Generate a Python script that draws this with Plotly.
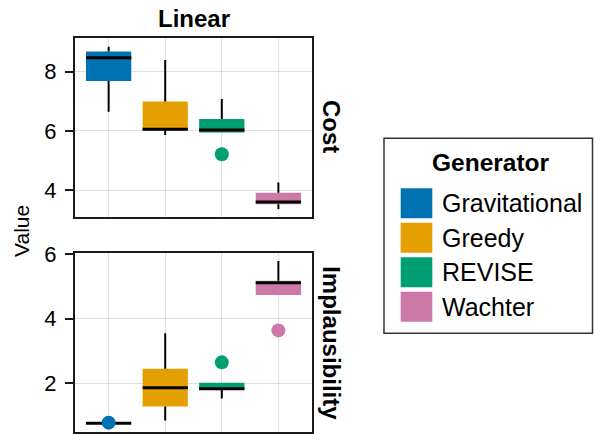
import plotly.graph_objects as go

# ---------------- data ----------------
generators = ["Gravitational", "Greedy", "REVISE", "Wachter"]
colors = ["#0072B2", "#E69F00", "#009E73", "#CC79A7"]
positions = [1, 2, 3, 4]

# Cost panel
cost_lower = [6.65, 5.86, 5.95, 3.36]
cost_q1 = [7.69, 6.02, 5.95, 3.52]
cost_median = [8.47, 6.06, 6.03, 3.60]
cost_q3 = [8.68, 6.99, 6.40, 3.91]
cost_upper = [8.84, 8.40, 7.08, 4.26]
cost_outlier_gen = ["REVISE"]
cost_outlier_val = [5.21]

# Implausibility panel
impl_lower = [0.76, 0.85, 1.53, 4.74]
impl_q1 = [0.76, 1.28, 1.80, 4.74]
impl_median = [0.76, 1.86, 1.83, 5.12]
impl_q3 = [0.76, 2.45, 2.02, 5.18]
impl_upper = [0.76, 3.55, 2.02, 5.79]
impl_outlier_gen = ["Gravitational", "REVISE", "Wachter"]
impl_outlier_val = [0.78, 2.65, 3.64]

panels = [
    ("Cost", cost_lower, cost_q1, cost_median, cost_q3, cost_upper, cost_outlier_gen, cost_outlier_val),
    ("Implausibility", impl_lower, impl_q1, impl_median, impl_q3, impl_upper, impl_outlier_gen, impl_outlier_val),
]

# ---------------- style ----------------
W, H = 594, 434
FONT = "Liberation Sans, Arial, Helvetica, sans-serif"
BOX_W = 0.8
FRAME = "#1a1a1a"
GRID = "rgba(0,0,0,0.12)"


def px(x):
    return x / W


def py(y):
    return 1 - y / H


fig = go.Figure()

axis_ids = [("x", "y"), ("x2", "y2")]
for (xa, ya), (name, lo, q1, med, q3, up, og, ov) in zip(axis_ids, panels):
    # box bodies
    fig.add_trace(go.Bar(
        x=positions, base=q1, y=[b - a for a, b in zip(q1, q3)],
        width=BOX_W, marker=dict(color=colors, line=dict(width=0)),
        xaxis=xa, yaxis=ya, showlegend=False, hoverinfo="skip",
    ))
    # whiskers
    wx, wy = [], []
    for p, l, a, b, u in zip(positions, lo, q1, q3, up):
        wx += [p, p, None, p, p, None]
        wy += [b, u, None, l, a, None]
    fig.add_trace(go.Scatter(
        x=wx, y=wy, mode="lines", line=dict(color="black", width=2),
        xaxis=xa, yaxis=ya, showlegend=False, hoverinfo="skip",
    ))
    # medians
    mx, my = [], []
    for p, m in zip(positions, med):
        mx += [p - BOX_W / 2, p + BOX_W / 2, None]
        my += [m, m, None]
    fig.add_trace(go.Scatter(
        x=mx, y=my, mode="lines", line=dict(color="black", width=3),
        xaxis=xa, yaxis=ya, showlegend=False, hoverinfo="skip",
    ))
    # outliers
    ox = [positions[generators.index(g)] for g in og]
    oc = [colors[generators.index(g)] for g in og]
    fig.add_trace(go.Scatter(
        x=ox, y=ov, mode="markers", marker=dict(color=oc, size=14, line=dict(width=0)),
        xaxis=xa, yaxis=ya, showlegend=False, hoverinfo="skip",
    ))

common_x = dict(
    range=[0.4, 4.6], tickvals=positions, showticklabels=False, ticks="",
    showgrid=True, gridcolor=GRID, gridwidth=1, zeroline=False,
    showline=True, linecolor=FRAME, linewidth=1.5, mirror=True,
    automargin=False,
    domain=[px(74.7), px(312.3)],
)
common_y = dict(
    showgrid=True, gridcolor=GRID, gridwidth=1, zeroline=False,
    showline=True, linecolor=FRAME, linewidth=1.5, mirror=True,
    ticks="outside", ticklen=8, tickwidth=1.5, tickcolor=FRAME,
    tickfont=dict(family=FONT, size=22, color="black"),
    ticklabelstandoff=4, automargin=False,
)

fig.update_layout(
    template="none",
    width=W, height=H,
    margin=dict(l=0, r=0, t=0, b=0, pad=0, autoexpand=False),
    paper_bgcolor="white", plot_bgcolor="white",
    barmode="overlay",
    showlegend=False,
    xaxis=dict(common_x, anchor="y"),
    yaxis=dict(common_y, anchor="x", range=[3.09, 9.15], tickvals=[4, 6, 8],
               domain=[py(217), py(37.7)]),
    xaxis2=dict(common_x, anchor="y2"),
    yaxis2=dict(common_y, anchor="x2", range=[0.49, 6.03], tickvals=[2, 4, 6],
                domain=[py(432), py(253.3)]),
)

annotations = [
    dict(text="<b>Linear</b>", x=px(193.5), y=py(18.5), xref="paper", yref="paper",
         showarrow=False, xanchor="center", yanchor="middle",
         font=dict(family=FONT, size=24, color="black")),
    dict(text="<b>Cost</b>", x=px(331), y=py(126), xref="paper", yref="paper",
         showarrow=False, xanchor="center", yanchor="middle", textangle=90,
         font=dict(family=FONT, size=24, color="black")),
    dict(text="<b>Implausibility</b>", x=px(331.5), y=py(342.7), xref="paper", yref="paper",
         showarrow=False, xanchor="center", yanchor="middle", textangle=90,
         font=dict(family=FONT, size=24, color="black")),
    dict(text="Value", x=px(21), y=py(231), xref="paper", yref="paper",
         showarrow=False, xanchor="center", yanchor="middle", textangle=-90,
         font=dict(family=FONT, size=21, color="black")),
    dict(text="<b>Generator</b>", x=px(491), y=py(162.5), xref="paper", yref="paper",
         showarrow=False, xanchor="center", yanchor="middle",
         font=dict(family=FONT, size=24.5, color="black")),
]

shapes = [
    dict(type="rect", xref="paper", yref="paper",
         x0=px(384), x1=px(592.5), y0=py(333.3), y1=py(138.3),
         line=dict(color="#333333", width=1.5), fillcolor="rgba(0,0,0,0)"),
]

LEG_TOP, LEG_PITCH, SQ = 188.3, 34.5, 30
for i, (g, c) in enumerate(zip(generators, colors)):
    top = LEG_TOP + i * LEG_PITCH
    shapes.append(dict(type="rect", xref="paper", yref="paper",
                       x0=px(400.7), x1=px(432.3), y0=py(top + SQ), y1=py(top),
                       line=dict(width=0), fillcolor=c))
    annotations.append(dict(text=g, x=px(440), y=py(top + SQ / 2), xref="paper", yref="paper",
                            showarrow=False, xanchor="left", yanchor="middle",
                            font=dict(family=FONT, size=25, color="black")))

fig.update_layout(annotations=annotations, shapes=shapes)

fig.write_html("out.html", config={"displayModeBar": False},
               post_script="document.body.style.margin='0';")
